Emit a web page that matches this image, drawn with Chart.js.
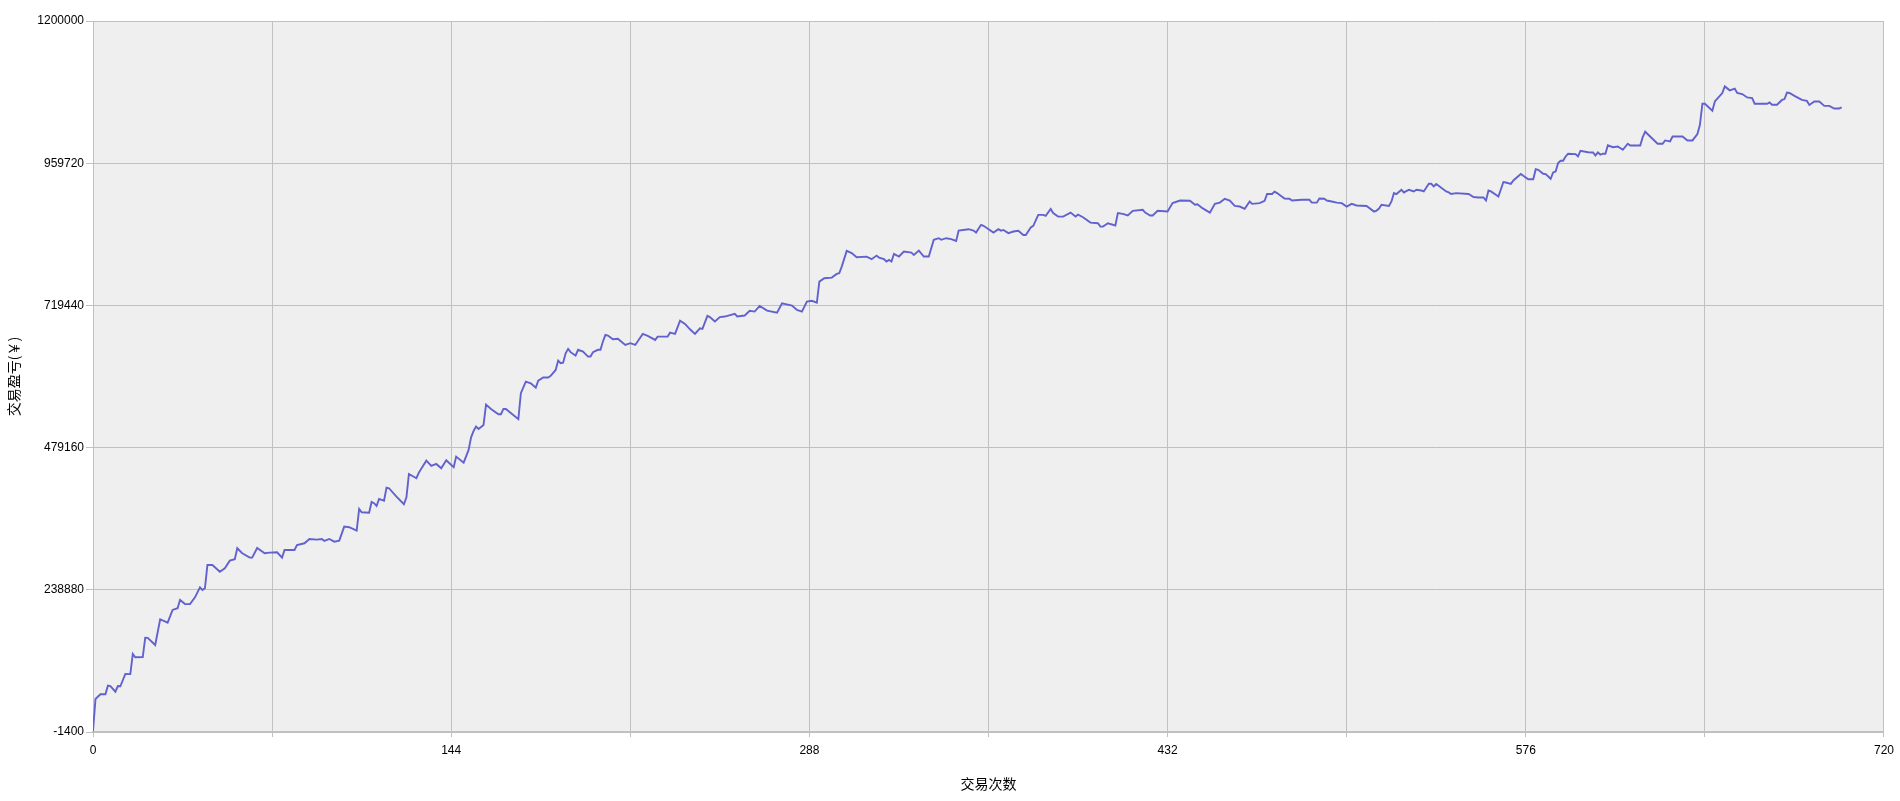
<!DOCTYPE html>
<html>
<head>
<meta charset="utf-8">
<title>交易盈亏</title>
<script src="https://cdn.jsdelivr.net/npm/chart.js@4.4.1/dist/chart.umd.min.js"></script>
<style>
  html, body { margin: 0; padding: 0; background: #ffffff; }
  canvas { display: block; }
</style>
</head>
<body>
<canvas id="pnl" width="1900" height="801"></canvas>
<script>
// trade number (x) and cumulative profit (y)
const tradeNo = [
  0, 1, 3, 5, 6, 7, 9, 10, 11, 13, 15, 16, 17, 20, 21, 22, 25, 27, 30, 32, 34, 35, 37, 39, 41, 43, 44, 45, 46, 48,
  51, 53, 55, 57, 58, 60, 63, 64, 66, 69, 71, 74, 76, 77, 81, 82, 85, 87, 90, 92, 93, 95, 97, 99, 101, 103, 106, 107, 108, 111,
  112, 113, 114, 115, 117, 118, 119, 122, 125, 126, 127, 130, 131, 134, 136, 138, 140, 142, 145, 146, 149, 151, 152, 153, 154, 155, 157, 158, 160, 163,
  164, 165, 166, 171, 172, 174, 176, 178, 179, 181, 183, 184, 186, 187, 188, 189, 190, 191, 192, 194, 195, 197, 199, 200, 201, 203, 204, 205, 206, 207,
  209, 211, 214, 216, 218, 221, 223, 226, 227, 231, 232, 234, 236, 238, 240, 242, 244, 245, 247, 248, 250, 252, 254, 258, 259, 262, 264, 266, 268, 271,
  275, 277, 281, 283, 285, 287, 289, 291, 292, 294, 297, 299, 300, 301, 303, 305, 307, 311, 313, 315, 316, 318, 319, 320, 321, 322, 324, 326, 329, 330,
  332, 334, 336, 338, 340, 341, 343, 345, 347, 348, 352, 354, 355, 357, 358, 362, 364, 365, 366, 368, 370, 372, 374, 375, 377, 378, 380, 382, 383, 385,
  386, 388, 390, 393, 395, 396, 398, 401, 404, 405, 406, 408, 411, 412, 414, 416, 418, 422, 423, 425, 426, 428, 432, 434, 437, 441, 443, 444, 446, 449,
  451, 453, 455, 457, 459, 461, 463, 465, 466, 469, 471, 472, 474, 475, 476, 479, 481, 482, 486, 489, 490, 492, 493, 495, 496, 498, 500, 502, 504, 506,
  508, 512, 515, 516, 517, 518, 521, 522, 523, 524, 526, 527, 529, 531, 532, 534, 535, 537, 538, 539, 540, 544, 545, 546, 548, 553, 555, 557, 559, 560,
  561, 562, 565, 567, 568, 570, 571, 574, 575, 577, 579, 580, 581, 583, 584, 586, 587, 588, 589, 590, 591, 592, 593, 596, 597, 598, 601, 603, 604, 605,
  606, 607, 608, 609, 611, 613, 615, 617, 618, 622, 623, 624, 629, 631, 632, 634, 635, 639, 641, 643, 645, 646, 647, 648, 651, 652, 654, 655, 656, 658,
  660, 661, 663, 665, 667, 668, 673, 674, 675, 677, 679, 680, 681, 682, 684, 687, 689, 690, 692, 694, 696, 698, 700, 702, 703
];
const profit = [
  0, 54400, 62300, 62300, 76900, 76000, 66700, 76300, 75900, 96600, 96400, 130400, 124800, 125200, 158000, 157600, 145600, 189100, 183300, 204800, 207700, 221700, 214900, 214700, 226200, 243100, 238600, 241500, 280800, 280800,
  269500, 275300, 288100, 290500, 309100, 300600, 293200, 293200, 309600, 300600, 301700, 302300, 293200, 306200, 306200, 314600, 317500, 324800, 323600, 324800, 321400, 324800, 320200, 321900, 345600, 344600, 338800, 375500, 369900, 369200,
  387300, 385200, 380500, 392400, 389500, 411500, 410500, 396300, 383400, 395000, 434600, 427400, 436900, 457100, 448100, 451500, 444300, 457800, 445900, 463900, 453700, 475200, 496600, 507300, 514600, 510700, 517400, 551900, 544500, 535500,
  535500, 544500, 544500, 527100, 571000, 590600, 587900, 580500, 592300, 597500, 597500, 600400, 610400, 626200, 621700, 622700, 638600, 646000, 640400, 634700, 644400, 641300, 633000, 633000, 640400, 644400, 644400, 658400, 669500, 668400,
  662300, 663000, 652600, 655600, 652600, 671200, 668000, 661100, 666700, 666700, 673400, 671200, 693700, 688100, 679100, 671200, 680800, 679700, 701800, 699600, 692200, 699600, 700600, 705200, 700700, 702300, 710300, 709000, 718500, 710600,
  707200, 723100, 719200, 711800, 709000, 725800, 727200, 724100, 759600, 765300, 766400, 772700, 773800, 785000, 811500, 807800, 800800, 801900, 797500, 803600, 800200, 797500, 793400, 796200, 793400, 806400, 802000, 810500, 808600, 804700,
  812000, 802000, 802000, 830300, 833000, 830300, 833000, 831500, 828400, 845800, 848200, 845800, 842600, 855600, 853900, 842600, 848200, 845800, 847000, 841500, 844300, 845500, 838500, 838500, 851100, 853900, 872400, 872400, 870700, 882500,
  875400, 869500, 869500, 876200, 869500, 872900, 868400, 859300, 858200, 852600, 852600, 858200, 854500, 875400, 874000, 871400, 879300, 881000, 876200, 871400, 871400, 879300, 878100, 892300, 896700, 896200, 889500, 890400, 883800, 876200,
  891000, 893100, 899600, 896700, 887500, 886500, 882500, 895000, 891000, 892300, 896200, 907800, 907800, 911700, 909200, 900000, 899600, 896700, 897900, 897900, 893100, 893100, 900000, 899600, 896700, 895000, 893100, 892300, 886500, 891000,
  888300, 887500, 878000, 879700, 883000, 889500, 887500, 895000, 909200, 907600, 914800, 910300, 914800, 912000, 914800, 913600, 912000, 924900, 924900, 920400, 924400, 912000, 910300, 907600, 909200, 907600, 902500, 901800, 901800, 896700,
  913600, 912000, 903500, 927900, 927100, 924900, 930500, 941400, 938400, 932700, 932700, 949600, 948600, 941900, 941400, 933400, 944100, 945700, 959900, 963900, 963900, 971100, 975700, 975100, 971100, 980800, 978300, 977900, 972800, 977900,
  974000, 975700, 975700, 990000, 986800, 988000, 982400, 992600, 989700, 989700, 1003800, 1012900, 992600, 992600, 998200, 996500, 1004900, 1004900, 998200, 998200, 1009000, 1024700, 1060200, 1060200, 1048400, 1064100, 1073400, 1078300, 1089500, 1082800,
  1085600, 1078300, 1076500, 1070800, 1069700, 1060200, 1060200, 1062400, 1058500, 1058500, 1066600, 1068100, 1079000, 1078300, 1073400, 1066600, 1065000, 1058200, 1064100, 1064100, 1056600, 1056600, 1052200, 1052200, 1053900
];

const yTicks = [-1400, 238880, 479160, 719440, 959720, 1200000];
const xGrid = [0, 72, 144, 216, 288, 360, 432, 504, 576, 648, 720];
const xLabels = [0, 144, 288, 432, 576, 720];

const gridColor = "#c0c0c0";
const tickFont = { family: "'Liberation Sans', Arial, sans-serif", size: 12 };
const titleFont = { family: "'Noto Sans CJK SC', sans-serif", size: 14 };

// grey plot area background
const plotBg = {
  id: "plotBg",
  beforeDraw(chart) {
    const { ctx, chartArea } = chart;
    ctx.save();
    ctx.fillStyle = "#efefef";
    ctx.fillRect(chartArea.left, chartArea.top, chartArea.right - chartArea.left, chartArea.bottom - chartArea.top);
    ctx.restore();
  }
};

new Chart(document.getElementById("pnl"), {
  type: "line",
  data: {
    datasets: [{
      data: tradeNo.map((x, i) => ({ x, y: profit[i] })),
      borderColor: "#6262cf",
      borderWidth: 1.9,
      pointRadius: 0,
      tension: 0,
      fill: false
    }]
  },
  options: {
    responsive: false,
    animation: false,
    layout: { padding: { top: 21, right: 15, left: 0, bottom: 0 } },
    plugins: {
      legend: { display: false },
      tooltip: { enabled: false }
    },
    scales: {
      x: {
        type: "linear",
        min: 0,
        max: 720,
        afterBuildTicks: s => { s.ticks = xGrid.map(v => ({ value: v })); },
        afterFit: s => { s.height = 69; },
        ticks: {
          autoSkip: false,
          maxRotation: 0,
          padding: 6,
          color: "#000",
          font: tickFont,
          callback: v => xLabels.includes(v) ? String(v) : ""
        },
        grid: { color: gridColor, tickLength: 5, tickColor: gridColor },
        border: { color: gridColor, width: 2 },
        title: { display: true, text: "交易次数", color: "#000", font: titleFont, padding: { top: 0, bottom: 9 } }
      },
      y: {
        type: "linear",
        min: -1400,
        max: 1200000,
        afterBuildTicks: s => { s.ticks = yTicks.map(v => ({ value: v })); },
        afterFit: s => { s.width = 93; },
        ticks: {
          padding: 2,
          color: "#000",
          font: tickFont,
          callback: v => String(v)
        },
        grid: { color: gridColor, tickLength: 7, tickColor: gridColor },
        border: { color: gridColor, width: 1 },
        title: { display: true, text: "交易盈亏(￥)", color: "#000", font: titleFont, padding: { top: 5, bottom: 0 } }
      }
    }
  },
  plugins: [plotBg]
});
</script>
</body>
</html>
